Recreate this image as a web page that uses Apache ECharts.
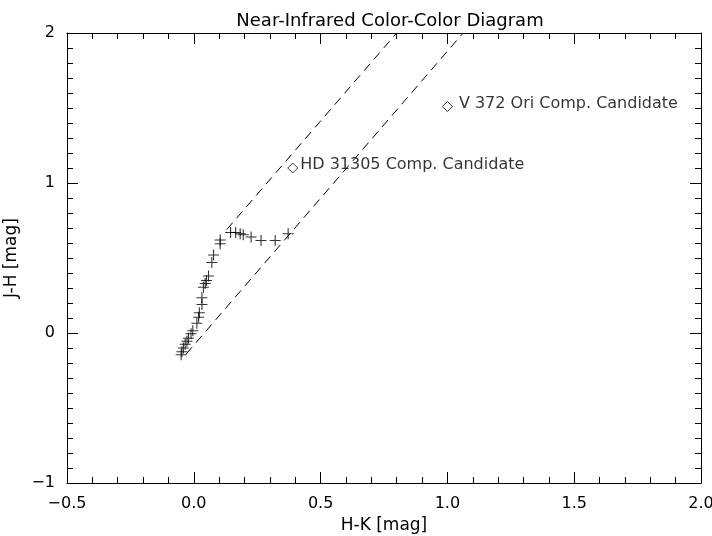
<!DOCTYPE html>
<html>
<head>
<meta charset="utf-8">
<script src="https://cdn.jsdelivr.net/npm/echarts@6/dist/echarts.min.js"></script>
<style>html,body{margin:0;padding:0;background:#fff}#c{width:712px;height:536px}</style>
</head>
<body>
<div id="c"></div>
<script>
// Intrinsic colour sequence (H-K, J-H) plotted as "+"
var seqHK = [-0.050,-0.047,-0.041,-0.034,-0.027,-0.021,-0.011,-0.004,0.012,0.019,0.022,0.032,0.032,0.038,0.045,0.050,0.058,0.071,0.078,0.104,0.104,0.145,0.165,0.183,0.195,0.226,0.265,0.321,0.372];
var seqJH = [-0.145,-0.125,-0.100,-0.075,-0.055,-0.035,-0.005,0.015,0.065,0.105,0.135,0.190,0.235,0.305,0.330,0.350,0.380,0.470,0.520,0.595,0.620,0.670,0.670,0.662,0.655,0.640,0.617,0.617,0.662];
// Reddening band lines
var bandUpper = [[0.13, 0.69], [0.80, 2.0]];
var bandLower = [[-0.03, -0.14], [1.062, 2.0]];
// Companion candidates
var candNames = ['V 372 Ori Comp. Candidate', 'HD 31305 Comp. Candidate'];
var candHK = [1.0, 0.39];
var candJH = [1.51, 1.10];
// Axis ranges
var xMin = -0.5, xMax = 2.0, xStep = 0.5;
var yMin = -1, yMax = 2, yStep = 1;

var FONT = 'DejaVu Sans';
var seqData = seqHK.map(function (v, i) { return [v, seqJH[i]]; });
var candData = candHK.map(function (v, i) { return { name: candNames[i], value: [v, candJH[i]] }; });
var candLabelStyles = [{ offset: [-1, -3] }, { offset: [-5, -3] }];
candData.forEach(function (d, i) {
  d.label = candLabelStyles[i];
});
function fmtNum(v, dec) {
  var s = dec ? Math.abs(v).toFixed(dec) : String(Math.abs(v));
  return (v < 0 ? '\u2212' : '') + s;
}

function xAxisDef(pos, showLabels) {
  return {
    type: 'value', position: pos, min: xMin, max: xMax, interval: xStep,
    name: showLabels ? 'H-K [mag]' : '', nameLocation: 'middle', nameGap: 29,
    nameTextStyle: { fontFamily: FONT, fontSize: 17, color: '#000' },
    axisLine: { show: true, onZero: false, lineStyle: { color: '#000', width: 1 } },
    axisTick: { show: true, inside: true, length: 11, lineStyle: { color: '#000' } },
    minorTick: { show: true, splitNumber: 5, length: 6, lineStyle: { color: '#000' } },
    axisLabel: { show: showLabels, margin: 13, fontFamily: FONT, fontSize: 16, color: '#000',
      hideOverlap: false,
      formatter: function (v) { return fmtNum(v, 1); } },
    splitLine: { show: false }
  };
}
function yAxisDef(pos, showLabels) {
  return {
    type: 'value', position: pos, min: yMin, max: yMax, interval: yStep,
    name: showLabels ? 'J-H [mag]' : '', nameLocation: 'middle', nameGap: 37,
    nameTextStyle: { fontFamily: FONT, fontSize: 17, color: '#000' },
    axisLine: { show: true, onZero: false, lineStyle: { color: '#000', width: 1 } },
    axisTick: { show: true, inside: true, length: 11, lineStyle: { color: '#000' } },
    minorTick: { show: true, splitNumber: 10, length: 6, lineStyle: { color: '#000' } },
    axisLabel: { show: showLabels, margin: 12, fontFamily: FONT, fontSize: 16, color: '#000',
      hideOverlap: false,
      formatter: function (v) { return fmtNum(v, 0); } },
    splitLine: { show: false }
  };
}

var chart = echarts.init(document.getElementById('c'), null, { renderer: 'canvas' });
chart.setOption({
  animation: false,
  backgroundColor: '#fff',
  title: {
    text: 'Near-Infrared Color-Color Diagram', left: 385, top: 7, textAlign: 'center',
    textStyle: { fontFamily: FONT, fontSize: 18, fontWeight: 'normal', color: '#000' }
  },
  grid: { left: 67, right: 11, top: 33, bottom: 53, containLabel: false, outerBoundsMode: 'none' },
  xAxis: [xAxisDef('bottom', true), xAxisDef('top', false)],
  yAxis: [yAxisDef('left', true), yAxisDef('right', false)],
  series: [
    { type: 'line', data: bandUpper, symbol: 'none', silent: true,
      lineStyle: { color: '#000', width: 1, type: [9, 6] } },
    { type: 'line', data: bandLower, symbol: 'none', silent: true,
      lineStyle: { color: '#000', width: 1, type: [9, 6] } },
    { type: 'scatter', data: seqData, symbol: 'path://M0,5L10,5M5,0L5,10', symbolSize: 11,
      itemStyle: { color: 'none', borderColor: '#000', borderWidth: 1.1 } },
    { type: 'scatter', data: candData, symbol: 'diamond', symbolSize: [10, 10],
      itemStyle: { color: 'none', borderColor: '#000', borderWidth: 1 },
      label: { show: true, position: 'right', distance: 5, formatter: '{b}',
        fontFamily: FONT, fontSize: 16, color: '#000' } }
  ]
});
</script>
</body>
</html>
